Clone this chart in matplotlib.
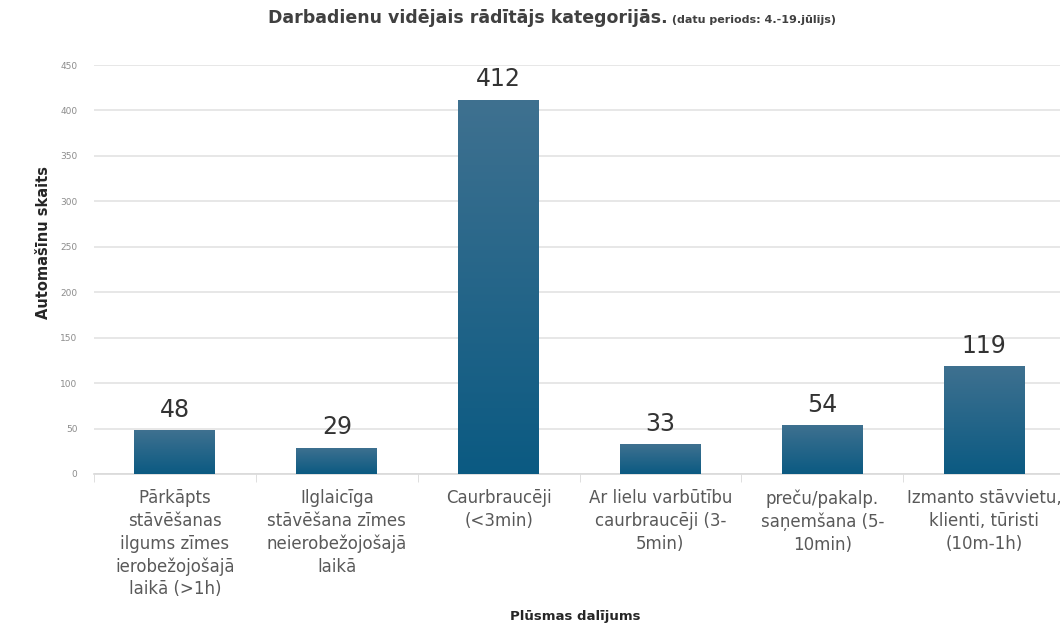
import numpy as np
import matplotlib.pyplot as plt
from matplotlib.colors import LinearSegmentedColormap

# data
categories = [
    "Pārkāpts\nstāvēšanas\nilgums zīmes\nierobežojošajā\nlaikā (>1h)",
    "Ilglaicīga\nstāvēšana zīmes\nneierobežojošajā\nlaikā",
    "Caurbraucēji\n(<3min)",
    "Ar lielu varbūtību\ncaurbraucēji (3-\n5min)",
    "preču/pakalp.\nsaņemšana (5-\n10min)",
    "Izmanto stāvvietu,\nklienti, tūristi\n(10m-1h)",
]
values = [48, 29, 412, 33, 54, 119]
yticks = [0, 50, 100, 150, 200, 250, 300, 350, 400, 450]

title_main = "Darbadienu vidējais rādītājs kategorijās."
title_sub = " (datu periods: 4.-19.jūlijs)"
xlabel = "Plūsmas dalījums"
ylabel = "Automašīnu skaits"

plt.rcParams['font.family'] = ['DejaVu Sans']

fig = plt.figure(figsize=(10.6, 6.24), dpi=100)
ax = fig.add_axes([0.0887, 0.2404, 0.916, 0.6554])

x = np.arange(len(values))
bars = ax.bar(x, values, width=0.5, color='#155f86', zorder=2)

# vertical gradient inside each bar
cmap = LinearSegmentedColormap.from_list('bar', ['#0b5a82', '#3f7190'])
grad = np.linspace(0, 1, 256).reshape(-1, 1)
for b in bars:
    x0, y0 = b.get_x(), b.get_y()
    w, h = b.get_width(), b.get_height()
    im = ax.imshow(grad, cmap=cmap, aspect='auto', origin='lower',
                   extent=[x0, x0 + w, y0, y0 + h], zorder=3)
    im.set_clip_path(b)
    b.set_facecolor('none')
    ax.text(x0 + w / 2, h + 9, str(int(h)), ha='center', va='bottom',
            fontsize=17, color='#333333', zorder=4)

ax.set_xlim(-0.5, len(values) - 0.5)
ax.set_ylim(0, 450)
ax.set_yticks(yticks)
ax.set_yticklabels([str(t) for t in yticks], fontsize=6.5, color='#8c8c8c')
ax.yaxis.grid(True, color='#e3e3e3', linewidth=1.2, zorder=0)
ax.tick_params(axis='y', length=0, pad=12)

ax.set_xticks(x)
ax.set_xticklabels(categories, fontsize=12, color='#595959', linespacing=1.33)
ax.set_xticks(np.arange(len(values) + 1) - 0.5, minor=True)
ax.tick_params(axis='x', which='major', length=0, pad=11)
ax.tick_params(axis='x', which='minor', length=6, color='#d9d9d9')

for s in ['top', 'right', 'left']:
    ax.spines[s].set_visible(False)
ax.spines['bottom'].set_color('#d9d9d9')
ax.spines['bottom'].set_linewidth(1.2)

ax.set_ylabel(ylabel, fontsize=10.5, fontweight='bold', color='#262626')
ax.yaxis.set_label_coords(-0.044, 0.567)
fig.text(0.543, 0.006, xlabel, ha='center', fontsize=9.5, fontweight='bold',
         color='#262626')

t1 = fig.text(0.253, 0.963, title_main, ha='left', fontsize=12.5,
              fontweight='bold', color='#404040')
fig.canvas.draw()
bb = t1.get_window_extent()
fig.text(bb.x1 / fig.bbox.width, 0.963, title_sub, ha='left', fontsize=8,
         fontweight='bold', color='#404040')

fig.savefig('out.png', dpi=100)
